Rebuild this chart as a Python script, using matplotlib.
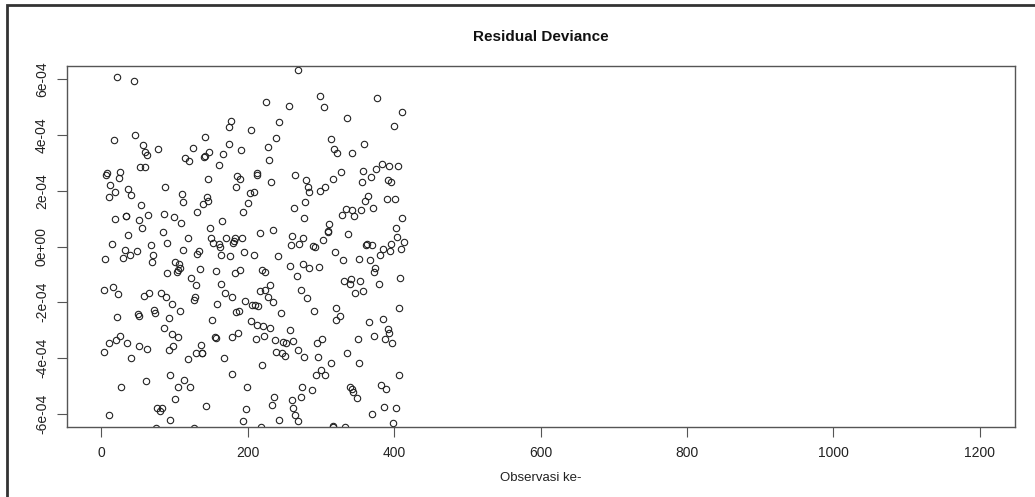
import matplotlib
matplotlib.use("Agg")
import matplotlib.pyplot as plt
from matplotlib.patches import Rectangle
import numpy as np

plt.rcParams['font.family'] = ['Liberation Sans', 'DejaVu Sans']

obs = [21, 44, 46, 17, 57, 77, 125, 59, 62, 114, 120, 53, 60, 7, 25, 6, 24, 12,
       159, 268, 225, 256, 177, 174, 242, 205, 142, 239, 175, 228, 147, 166, 191, 140, 141, 229,
       161, 146, 185, 189, 212, 213, 265, 279, 232,
       298, 304, 377, 411, 336, 400, 313, 359, 318, 322, 342, 383, 393, 405, 375, 357, 327, 316,
       368, 356, 391, 396,
       36, 40, 18, 10, 87, 110, 112, 54, 130, 19, 33, 34, 51, 63, 86, 99, 109, 55, 37, 84, 119,
       89, 15, 68, 111, 32, 49, 39, 29, 71, 5, 69, 131, 101, 106, 107, 104, 103, 90, 122, 129,
       3, 16, 23, 58, 65, 82, 88, 128, 127, 97,
       184, 144, 145, 139, 203, 209, 200, 193, 263, 278, 165, 277, 149, 235, 217, 150, 170, 183,
       192, 181, 180, 153, 160, 162, 261, 276, 270, 259, 134, 195, 208, 163, 176, 241, 135, 156,
       182, 190, 220, 224, 258, 275, 267, 164, 230, 223, 216, 272, 169, 178, 227, 196, 234, 158,
       206, 210, 214,
       282, 284, 299, 306, 364, 360, 390, 401, 334, 328, 343, 345, 355, 371, 410, 311, 309, 310,
       337, 402, 404, 413, 395, 303, 289, 292, 361, 363, 370, 384, 409, 394, 380, 319, 330, 352,
       367, 283, 297, 374, 373, 408, 332, 341, 339, 353, 379, 347, 358, 281, 321, 407,
       72, 73, 50, 52, 22, 93, 108, 85, 96, 105, 26, 20, 11, 35, 4, 52, 62, 98, 92, 129, 41, 118,
       94, 61, 113, 27, 105, 121, 100, 76, 83, 80, 11, 94, 75, 127,
       184, 188, 246, 151, 205, 213, 221, 231, 257, 187, 179, 157, 155, 211, 222, 237, 248, 252,
       262, 136, 137, 138, 238, 247, 251, 269, 277, 167, 219, 178, 199, 274, 236, 273, 260, 233,
       143, 197, 262, 264, 268, 243, 194, 218,
       290, 326, 320, 366, 385, 392, 393, 302, 295, 350, 372, 388, 397, 296, 335, 314, 352, 300,
       293, 305, 406, 288, 340, 342, 344, 349, 382, 389, 386, 403, 369, 399, 317, 316, 333]

resid_e4 = [6.10, 5.95, 3.99, 3.81, 3.64, 3.49, 3.53, 3.39, 3.27, 3.19, 3.06, 2.85, 2.85, 2.63,
            2.66, 2.55, 2.47, 2.22,
            6.62, 6.33, 5.19, 5.03, 4.49, 4.29, 4.47, 4.17, 3.93, 3.88, 3.69, 3.58, 3.39, 3.33,
            3.46, 3.23, 3.25, 3.10, 2.94, 2.41, 2.52, 2.41, 2.63, 2.56, 2.57, 2.37, 2.31,
            5.40, 5.01, 5.33, 4.84, 4.63, 4.32, 3.85, 3.67, 3.51, 3.37, 3.34, 2.96, 2.90, 2.90,
            2.78, 2.70, 2.68, 2.44, 2.48, 2.32, 2.39, 2.30,
            2.05, 1.86, 1.94, 1.77, 2.13, 1.87, 1.60, 1.49, 1.25, 0.97, 1.08, 1.10, 0.94, 1.14,
            1.15, 1.06, 0.83, 0.65, 0.42, 0.53, 0.31, 0.14, 0.10, 0.06, -0.11, -0.11, -0.15,
            -0.30, -0.40, -0.31, -0.45, -0.54, -0.26, -0.54, -0.62, -0.77, -0.86, -0.92, -0.96,
            -1.12, -1.38, -1.55, -1.45, -1.72, -1.77, -1.67, -1.68, -1.81, -1.81, -1.93, -2.05,
            2.15, 1.77, 1.62, 1.54, 1.91, 1.94, 1.55, 1.25, 1.39, 1.60, 0.93, 1.01, 0.65, 0.61,
            0.49, 0.30, 0.32, 0.30, 0.31, 0.18, 0.13, 0.11, 0.09, 0.00, 0.37, 0.29, 0.09, 0.04,
            -0.15, -0.19, -0.29, -0.29, -0.35, -0.34, -0.79, -0.88, -0.95, -0.86, -0.85, -0.91,
            -0.70, -0.62, -1.06, -1.36, -1.37, -1.55, -1.61, -1.55, -1.68, -1.82, -1.81, -1.96,
            -2.00, -2.05, -2.10, -2.10, -2.13,
            2.14, 1.97, 2.00, 2.15, 1.83, 1.64, 1.69, 1.72, 1.35, 1.14, 1.30, 1.11, 1.30, 1.39,
            1.03, 0.81, 0.52, 0.55, 0.46, 0.68, 0.35, 0.17, 0.09, 0.24, 0.03, 0.00, 0.06, 0.10,
            0.06, -0.08, -0.09, -0.17, -0.29, -0.20, -0.48, -0.45, -0.50, -0.76, -0.73, -0.77,
            -0.92, -1.12, -1.23, -1.17, -1.33, -1.23, -1.33, -1.66, -1.59, -1.84, -2.20, -2.20,
            -2.27, -2.38, -2.41, -2.49, -2.54, -2.57, -2.33, -2.93, -3.14, -3.25, -3.21, -3.36,
            -3.47, -3.45, -3.77, -3.59, -3.68, -3.59, -3.72, -3.83, -4.00, -4.05, -4.61, -4.83,
            -4.79, -5.05, -5.05, -5.05, -5.46, -5.78, -5.78, -5.92, -6.05, -6.22, -6.51, -6.52,
            -2.34, -2.32, -2.38, -2.65, -2.68, -2.81, -2.87, -2.92, -2.98, -3.11, -3.25, -3.27,
            -3.24, -3.32, -3.23, -3.36, -3.42, -3.47, -3.39, -3.53, -3.84, -3.82, -3.79, -3.83,
            -3.94, -3.71, -3.96, -4.02, -4.26, -4.58, -5.06, -5.05, -5.42, -5.42, -5.51, -5.69,
            -5.73, -5.84, -5.80, -6.05, -6.25, -6.22, -6.28, -6.47,
            -2.31, -2.49, -2.65, -2.72, -2.61, -2.97, -3.11, -3.33, -3.47, -3.33, -3.23, -3.33,
            -3.45, -3.95, -3.83, -4.19, -4.19, -4.45, -4.63, -4.60, -4.61, -5.15, -5.03, -5.10,
            -5.24, -5.44, -4.98, -5.12, -5.77, -5.80, -6.03, -6.35, -6.46, -6.48, -6.49]

resid = np.array(resid_e4) * 1e-4

xticks = [0, 200, 400, 600, 800, 1000, 1200]
yticks = [-6e-4, -4e-4, -2e-4, 0, 2e-4, 4e-4, 6e-4]
ytick_labels = ["-6e-04", "-4e-04", "-2e-04", "0e+00", "2e-04", "4e-04", "6e-04"]

fig = plt.figure(figsize=(10.35, 4.97), dpi=100)
ax = fig.add_axes([67/1035, 1-427/497, (1015-67)/1035, (427-66)/497])

ax.plot(obs, resid, 'o', mfc='none', mec='#222222', ms=4.6, mew=0.8)

# R style 4% padding
ax.set_xlim(1 - 0.04*1199, 1200 + 0.04*1199)
ax.set_ylim(-6e-4*1.08, 6e-4*1.08)

ax.set_xticks(xticks)
ax.set_xticklabels([str(t) for t in xticks])
ax.set_yticks(yticks)
ax.set_yticklabels(ytick_labels, rotation=90, va='center')
ax.tick_params(length=7, width=0.8, color='#555555', labelsize=10, labelcolor='#222222')
ax.tick_params(axis='x', pad=7)
ax.tick_params(axis='y', pad=6)
for s in ax.spines.values():
    s.set_color('#555555')
    s.set_linewidth(1)

fig.text(541/1035, 1-37/497, "Residual Deviance", ha='center', va='center',
         fontsize=11, fontweight='bold', color='#111111')
fig.text(541/1035, 1-478/497, "Observasi ke-", ha='center', va='center',
         fontsize=9.5, color='#222222')

# outer border of the screenshot
fig.patches.append(Rectangle((7/1035, -0.2), 1.5, 1.2 - 5/497, transform=fig.transFigure,
                             fill=False, edgecolor='#333333', lw=2))

fig.savefig("out.png", dpi=100)
